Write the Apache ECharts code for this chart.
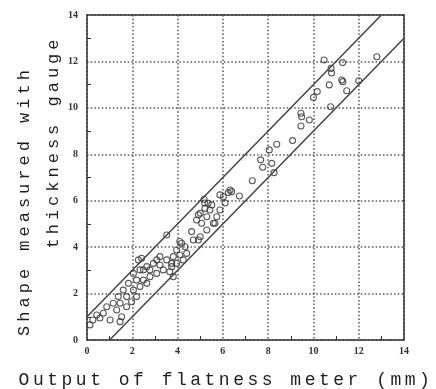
<!DOCTYPE html>
<html>
<head>
<meta charset="utf-8">
<script src="https://cdn.jsdelivr.net/npm/echarts@6/dist/echarts.min.js"></script>
<style>
html, body { margin: 0; padding: 0; background: #fff; }
#chart { width: 436px; height: 389px; }
</style>
</head>
<body>
<div id="chart"></div>
<script>
//axis ticks
var axisTicks = [0, 2, 4, 6, 8, 10, 12, 14];

//output of flatness meter (mm)
var meterOutput = [
	10.47, 11.29, 12.8, 10.78, 10.8, 11.25, 11.3, 12.0, 10.7, 11.47, 10.17, 10.0, 10.76,
	9.45, 9.48, 9.82, 9.45, 9.08, 8.38, 8.05, 7.67, 7.76, 8.16, 8.26, 7.3, 6.32,
	5.87, 6.24, 6.39, 6.73, 6.1, 5.2, 5.17, 3.52, 2.41, 4.1, 4.33, 4.7, 5.0, 5.29,
	5.58, 5.73, 5.43, 5.0, 4.84, 5.35, 5.87, 6.02, 3.22, 2.93, 2.64, 2.34, 2.05,
	1.83, 1.6, 1.38, 1.16, 0.87, 0.72, 1.75, 2.05, 2.19, 1.97, 2.49, 2.78, 3.08,
	3.37, 3.74, 3.96, 4.25, 4.4, 3.81, 3.96, 4.1, 4.62, 5.06, 5.29, 1.31, 1.53,
	2.19, 2.49, 2.78, 0.57, 1.75, 1.46, 2.34, 2.64, 2.27, 3.52, 3.22, 3.08, 3.66,
	1.02, 0.26, 0.43, 1.46, 4.92, 5.21, 5.51, 5.65, 4.92, 4.18, 3.81, 3.74, 0.13
];
//shape measured with thickness gauge
var gaugeShape = [
	12.06, 11.95, 12.2, 11.7, 11.5, 11.2, 11.13, 11.17, 10.99, 10.74, 10.7, 10.45, 10.05,
	9.77, 9.62, 9.48, 9.22, 8.59, 8.43, 8.19, 7.76, 7.44, 7.61, 7.21, 6.86, 6.46,
	6.25, 6.35, 6.39, 6.2, 5.9, 5.9, 6.06, 4.52, 3.52, 3.66, 4.02, 4.31, 4.45, 4.74,
	5.03, 5.31, 5.6, 5.46, 5.17, 5.89, 5.6, 6.17, 3.59, 3.3, 3.16, 3.02, 2.87,
	2.44, 2.15, 1.87, 1.58, 1.43, 1.15, 1.87, 2.15, 1.87, 1.65, 2.58, 2.73, 2.87,
	3.02, 3.3, 3.3, 3.45, 3.73, 2.73, 3.88, 4.24, 4.67, 5.03, 5.31, 1.29, 1.0,
	2.58, 3.02, 3.02, 0.95, 1.43, 1.58, 2.3, 2.44, 3.45, 3.45, 3.23, 3.45, 2.94,
	0.86, 0.86, 1.08, 0.79, 5.39, 5.67, 5.82, 5.03, 4.31, 4.17, 3.59, 3.16, 0.65
];

//band limits
var upperLimit = [[0, 1], [13, 14]];
var lowerLimit = [[1, 0], [14, 13]];

var points = [];
for(var i = 0; i < meterOutput.length; i++) {
	points.push([meterOutput[i], gaugeShape[i]]);
}

//typewriter titles are letter spaced, tick labels are not
var baseFillText = CanvasRenderingContext2D.prototype.fillText;
CanvasRenderingContext2D.prototype.fillText = function() {
	var f = this.font;
	if(f.indexOf('Liberation Mono') < 0) {
		this.letterSpacing = '0px';
	} else if(f.indexOf('17px') >= 0) {
		this.letterSpacing = '4px';
	} else {
		this.letterSpacing = '3.5px';
	}
	return baseFillText.apply(this, arguments);
};

var titleStyle = function(size) {
	return {
		fontFamily: 'Liberation Mono',
		fontSize: size,
		fill: '#1e1e1e',
		textAlign: 'center',
		textVerticalAlign: 'middle'
	};
};

//main axes with labels, dotted grid and short minor ticks
var valueAxis = function(pos) {
	return {
		type: 'value',
		position: pos,
		min: axisTicks[0],
		max: axisTicks[axisTicks.length - 1],
		interval: axisTicks[1] - axisTicks[0],
		axisLine: {
			show: true,
			onZero: false,
			lineStyle: { color: '#333', width: 1.5 }
		},
		axisTick: {
			show: true,
			inside: true,
			length: 0
		},
		minorTick: {
			show: true,
			splitNumber: 2,
			length: 4,
			lineStyle: { color: '#333', width: 1 }
		},
		splitLine: {
			show: true,
			lineStyle: { color: '#555', width: 1.5, type: [1.5, 2.2] }
		},
		axisLabel: {
			show: true,
			fontFamily: 'Liberation Serif',
			fontWeight: 'bold',
			fontSize: 10,
			color: '#333'
		}
	};
};

//top and right frame only
var frameAxis = function(pos) {
	return {
		type: 'value',
		position: pos,
		min: axisTicks[0],
		max: axisTicks[axisTicks.length - 1],
		axisLine: {
			show: true,
			onZero: false,
			lineStyle: { color: '#333', width: 1.5 }
		},
		axisTick: { show: false },
		axisLabel: { show: false },
		splitLine: { show: false }
	};
};

var xMain = valueAxis('bottom');
xMain.axisLabel.margin = 6;
var yMain = valueAxis('left');
yMain.axisLabel.margin = 9;

var chart = echarts.init(document.getElementById('chart'));
chart.setOption({
	backgroundColor: '#fff',
	animation: false,
	grid: {
		left: 87,
		right: 32,
		top: 15,
		bottom: 49
	},
	xAxis: [xMain, frameAxis('top')],
	yAxis: [yMain, frameAxis('right')],
	graphic: [{
		type: 'text',
		x: 226,
		y: 380,
		style: echarts.util.extend({ text: 'Output of flatness meter (mm)' }, titleStyle(18))
	}, {
		type: 'text',
		x: 24,
		y: 201,
		rotation: Math.PI / 2,
		style: echarts.util.extend({ text: 'Shape measured with' }, titleStyle(17))
	}, {
		type: 'text',
		x: 53,
		y: 142,
		rotation: Math.PI / 2,
		style: echarts.util.extend({ text: 'thickness gauge' }, titleStyle(17))
	}],
	series: [{
		type: 'line',
		data: upperLimit,
		symbol: 'none',
		lineStyle: { color: '#444', width: 1.5 }
	}, {
		type: 'line',
		data: lowerLimit,
		symbol: 'none',
		lineStyle: { color: '#444', width: 1.5 }
	}, {
		type: 'scatter',
		data: points,
		symbol: 'circle',
		symbolSize: 6,
		itemStyle: {
			color: 'rgba(255,255,255,0)',
			borderColor: '#333',
			borderWidth: 1.1
		}
	}]
});
</script>
</body>
</html>
